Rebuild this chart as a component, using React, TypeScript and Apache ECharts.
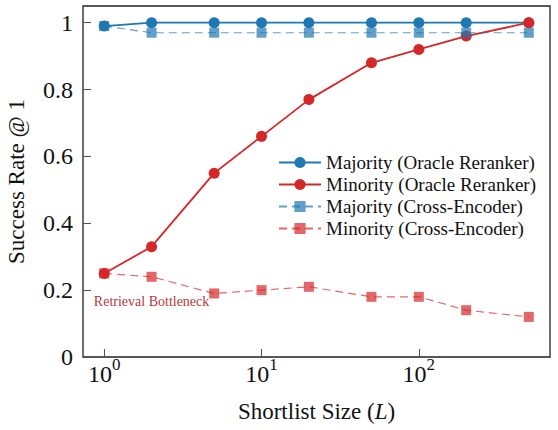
import React, { useEffect, useRef } from "react";
import * as echarts from "echarts";

const shortlistSizes = [1, 2, 5, 10, 20, 50, 100, 200, 500];
const majorityOracle = [0.99, 1, 1, 1, 1, 1, 1, 1, 1];
const minorityOracle = [0.25, 0.33, 0.55, 0.66, 0.77, 0.88, 0.92, 0.96, 1.0];
const majorityCross = [0.99, 0.97, 0.97, 0.97, 0.97, 0.97, 0.97, 0.97, 0.97];
const minorityCross = [0.25, 0.24, 0.19, 0.2, 0.21, 0.18, 0.18, 0.14, 0.12];
const seriesNames = [
  "Majority (Oracle Reranker)",
  "Minority (Oracle Reranker)",
  "Majority (Cross-Encoder)",
  "Minority (Cross-Encoder)",
];
const yTicks = [0, 0.2, 0.4, 0.6, 0.8, 1];
const xLimits = [0.733, 682];
const yLimits = [0, 1.05];
const annotationText = "Retrieval Bottleneck";
const annotationAt = [2, 0.165];

const FONT = "'Liberation Serif', 'Times New Roman', serif";
const BLUE = "#1f77b4";
const RED = "#d62728";

const pairs = (ys: number[]) => shortlistSizes.map((x, i) => [x, ys[i]]);

export default function App() {
  const ref = useRef<HTMLDivElement>(null);
  useEffect(() => {
    if (!ref.current) return;
    const chart = echarts.init(ref.current, null, { renderer: "svg" });
    const solid = (name: string, ys: number[], color: string) => ({
      name,
      type: "line",
      data: pairs(ys),
      symbol: "circle",
      symbolSize: 11,
      lineStyle: { color, width: 1.8 },
      itemStyle: { color },
      z: 2,
    });
    const dashed = (name: string, ys: number[], color: string) => ({
      name,
      type: "line",
      data: pairs(ys),
      symbol: "rect",
      symbolSize: 10,
      lineStyle: { color, width: 1.2, type: [8, 5], opacity: 0.7 },
      itemStyle: { color, opacity: 0.7 },
      z: 3,
    });
    const s0: any = solid(seriesNames[0], majorityOracle, BLUE);
    s0.markPoint = {
      symbol: "rect",
      symbolSize: 0,
      silent: true,
      itemStyle: { color: "rgba(0,0,0,0)" },
      label: {
        show: true,
        position: "inside",
        formatter: annotationText,
        color: "#b8383c",
        fontSize: 14,
        fontFamily: FONT,
      },
      data: [{ coord: annotationAt }],
    };
    chart.setOption({
      animation: false,
      backgroundColor: "#fff",
      textStyle: { fontFamily: FONT },
      grid: {
        left: 83,
        top: 6,
        right: 8,
        bottom: 73,
        show: true,
        borderColor: "#222",
        borderWidth: 1.3,
        backgroundColor: "transparent",
        containLabel: false,
        outerBoundsMode: "none",
      },
      legend: {
        orient: "vertical",
        left: 273,
        top: 148,
        itemWidth: 42,
        itemHeight: 14,
        itemGap: 3,
        data: seriesNames,
        textStyle: { fontFamily: FONT, fontSize: 19, color: "#111" },
      },
      xAxis: {
        type: "log",
        logBase: 10,
        min: xLimits[0],
        max: xLimits[1],
        name: "Shortlist Size ({it|L})",
        nameLocation: "middle",
        nameGap: 43,
        nameTextStyle: {
          fontFamily: FONT,
          fontSize: 23,
          color: "#111",
          rich: { it: { fontFamily: FONT, fontSize: 23, fontStyle: "italic", color: "#111" } },
        },
        axisLine: { show: false },
        splitLine: { show: false },
        minorTick: { show: false },
        axisTick: { inside: true, length: 8, lineStyle: { color: "#555", width: 1.1 } },
        axisLabel: {
          margin: 5,
          showMinLabel: false,
          showMaxLabel: false,
          formatter: (v: number) => {
            const e = Math.log10(v);
            const r = Math.round(e);
            if (Math.abs(e - r) > 1e-6) return "";
            return `{base|10}{sup|${r}}`;
          },
          rich: {
            base: { fontFamily: FONT, fontSize: 24, lineHeight: 24, color: "#111" },
            sup: { fontFamily: FONT, fontSize: 17, lineHeight: 17, padding: [0, 0, 20, 0], color: "#111" },
          },
        },
      },
      yAxis: {
        type: "value",
        min: yLimits[0],
        max: yLimits[1],
        interval: 0.2,
        name: "Success Rate @ 1",
        nameLocation: "middle",
        nameGap: 55,
        nameTextStyle: { fontFamily: FONT, fontSize: 23, color: "#111" },
        axisLine: { show: false },
        splitLine: { show: false },
        axisTick: { inside: true, length: 8, lineStyle: { color: "#555", width: 1.1 } },
        axisLabel: {
          margin: 10,
          fontFamily: FONT,
          fontSize: 24,
          color: "#111",
          showMaxLabel: false,
          formatter: (v: number) => {
            const t = yTicks.find((k) => Math.abs(k - v) < 1e-9);
            return t === undefined ? "" : String(t);
          },
        },
      },
      series: [
        s0,
        solid(seriesNames[1], minorityOracle, RED),
        dashed(seriesNames[2], majorityCross, BLUE),
        dashed(seriesNames[3], minorityCross, RED),
      ],
    });
    return () => chart.dispose();
  }, []);
  return (
    <div
      ref={ref}
      style={{ position: "fixed", left: 0, top: 0, width: 558, height: 430, background: "#fff" }}
    />
  );
}
